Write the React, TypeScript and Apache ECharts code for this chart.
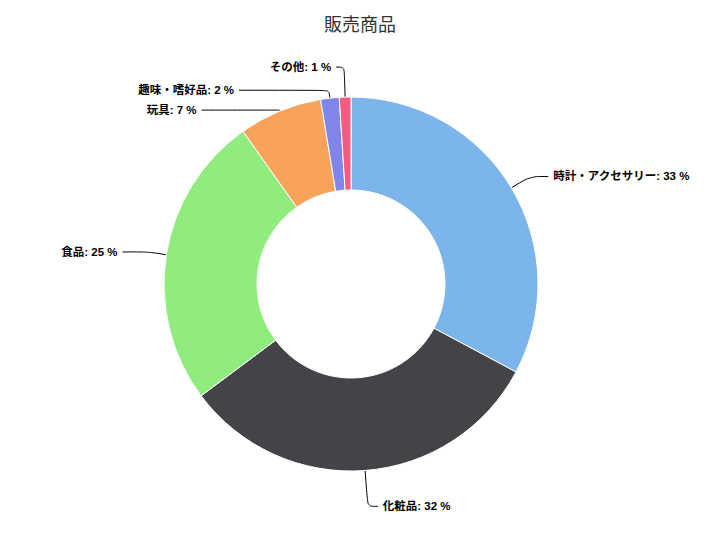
import React, { useEffect, useRef } from "react";
import * as echarts from "echarts";

const titleText = "販売商品";
const categories = ["時計・アクセサリー", "化粧品", "食品", "玩具", "趣味・嗜好品", "その他"];
const values = [32.8, 32.0, 25.4, 7.2, 1.6, 1.0];
const colors = ["#7cb5ec", "#434348", "#90ed7d", "#f7a35c", "#8085e9", "#f15c80"];
const lineLengths = [22, 36, 18, 1, 8, 30];
const lineLengths2 = [18, 10, 26, 78, 90, 8];

export default function App() {
  const ref = useRef<HTMLDivElement>(null);
  useEffect(() => {
    document.body.style.margin = "0";
    const chart = echarts.init(ref.current!, undefined, { renderer: "svg" });
    chart.setOption({
      animation: false,
      backgroundColor: "#ffffff",
      title: {
        text: titleText,
        left: "center",
        top: 9,
        textStyle: {
          fontSize: 18,
          fontWeight: "normal",
          color: "#333333",
          fontFamily: "Noto Sans CJK JP",
        },
      },
      series: [
        {
          type: "pie",
          center: [351, 284],
          radius: [94, 187],
          startAngle: 90,
          clockwise: true,
          avoidLabelOverlap: false,
          itemStyle: { borderColor: "#ffffff", borderWidth: 1 },
          label: {
            show: true,
            position: "outside",
            formatter: (p: any) => `${p.name}: ${Math.round(p.percent)} %`,
            fontSize: 11.5,
            fontWeight: "bold",
            color: "#000000",
            fontFamily: "'Liberation Sans', 'Noto Sans CJK JP', sans-serif",
            distanceToLabelLine: 5,
          },
          labelLine: {
            show: true,
            smooth: 0.3,
            lineStyle: { color: "#000000", width: 1 },
          },
          data: categories.map((c, i) => ({
            name: c,
            value: values[i],
            itemStyle: { color: colors[i] },
            labelLine: { length: lineLengths[i], length2: lineLengths2[i] },
          })),
        },
      ],
    });
    return () => chart.dispose();
  }, []);
  return <div ref={ref} style={{ width: 720, height: 533 }} />;
}
